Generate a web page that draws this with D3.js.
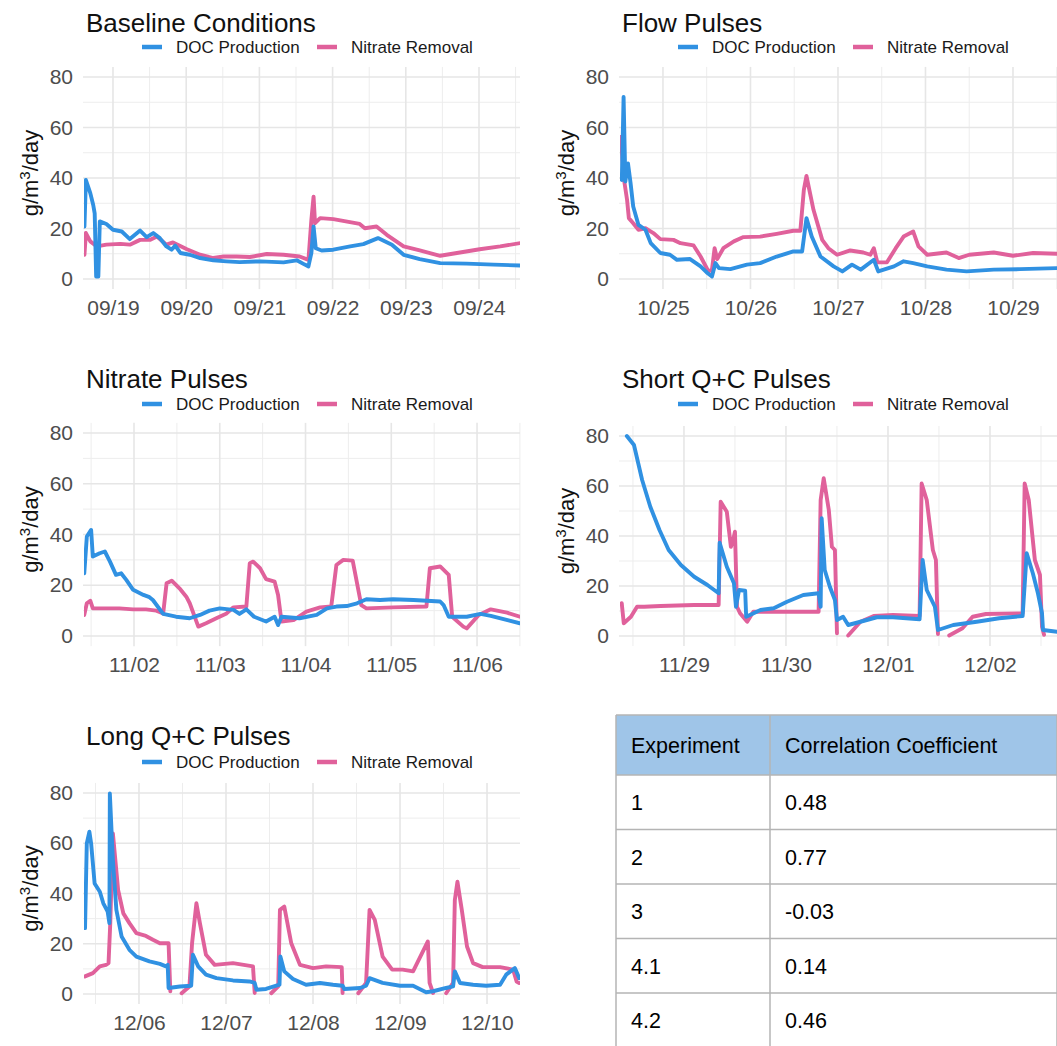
<!DOCTYPE html>
<html lang="en">
<head>
<meta charset="UTF-8" />
<title>DOC Production and Nitrate Removal</title>
<script src="https://cdn.jsdelivr.net/npm/d3@7"></script>
<style>
  body { margin: 0; background: #fff; }
  svg { display: block; }
</style>
</head>
<body>
<svg id="chart" width="1057" height="1046"></svg>
<script>
// series values: [fractional day of month, g/m3/day], null = gap
const baseDoc = [[18.61,20.8],[18.63,39.2],[18.69,34],[18.73,29.3],[18.75,26],[18.77,1],[18.80,1],[18.82,22.8],[18.91,21.8],[19.0,19.5],[19.12,18.8],[19.23,15.8],[19.37,19.2],[19.46,16.6],[19.55,18.2],[19.64,16.2],[19.73,12.9],[19.80,11.6],[19.85,13.2],[19.92,10.3],[20.05,9.6],[20.19,8.3],[20.37,7.4],[20.55,7],[20.73,6.7],[21.01,7],[21.33,6.6],[21.51,7.4],[21.62,5.7],[21.67,5],[21.71,10.3],[21.74,20.8],[21.77,12.2],[21.85,11.3],[22.01,11.6],[22.24,12.9],[22.42,13.8],[22.62,16.2],[22.81,13.6],[22.97,9.6],[23.19,7.9],[23.47,6.3],[23.83,6.1],[24.20,5.7],[24.60,5.3]];
const baseNit = [[18.61,9.6],[18.63,18.2],[18.69,14.9],[18.78,12.9],[18.91,13.6],[19.10,13.9],[19.23,13.6],[19.37,15.5],[19.51,15.5],[19.60,16.8],[19.73,13.6],[19.82,14.5],[20.01,11.8],[20.19,9.6],[20.37,8.3],[20.51,8.9],[20.69,8.9],[20.87,8.7],[21.10,9.9],[21.33,9.6],[21.55,8.9],[21.67,7.6],[21.71,23.4],[21.74,32.6],[21.76,22.1],[21.83,24.1],[22.01,23.7],[22.37,21.8],[22.44,20.1],[22.60,20.8],[22.74,17.5],[22.97,12.9],[23.19,11.3],[23.47,9.2],[23.74,10.5],[24.01,11.8],[24.29,12.9],[24.60,14.4]];

const flowDoc = [[24.53,39.2],[24.55,72.1],[24.57,38.6],[24.60,45.8],[24.63,37.9],[24.66,28.7],[24.72,21.4],[24.80,19.5],[24.86,14.2],[24.97,10.3],[25.08,9.6],[25.16,7.6],[25.31,7.9],[25.43,5],[25.50,2.6],[25.56,1],[25.60,6.3],[25.64,4.3],[25.77,3.9],[25.96,5.7],[26.11,6.3],[26.30,8.9],[26.49,10.9],[26.59,10.9],[26.64,24.1],[26.70,16.8],[26.80,8.9],[26.95,5],[27.05,3],[27.16,5.7],[27.26,3.7],[27.41,7.6],[27.46,3],[27.64,5],[27.75,7],[27.86,6.3],[28.02,5],[28.24,3.7],[28.47,3],[28.78,3.7],[29.08,3.9],[29.50,4.3]];
const flowNit = [[24.52,56.3],[24.55,40.5],[24.59,31.3],[24.61,24.1],[24.66,22.1],[24.72,19.5],[24.80,20.1],[24.89,18.2],[24.97,15.8],[25.12,15.5],[25.20,14.2],[25.35,13.3],[25.43,8.9],[25.52,3],[25.56,3.7],[25.59,12.2],[25.62,7.9],[25.69,12.2],[25.81,14.9],[25.92,16.6],[26.11,16.8],[26.30,17.9],[26.49,19.1],[26.57,19.1],[26.61,35.3],[26.64,40.8],[26.72,27.4],[26.82,15.5],[26.89,12.2],[26.99,9.6],[27.14,11.3],[27.29,10.5],[27.37,9.6],[27.41,12.2],[27.45,6.6],[27.56,6.6],[27.66,12.2],[27.75,16.8],[27.86,18.8],[27.92,12.9],[28.02,9.6],[28.24,10.5],[28.38,8.3],[28.50,9.6],[28.78,10.5],[29.00,9.2],[29.23,10.3],[29.50,10]];

const nitDoc = [[1.42,24.7],[1.45,39.2],[1.50,41.8],[1.52,31.3],[1.60,32.6],[1.66,33.3],[1.72,29.3],[1.79,24.1],[1.85,24.7],[1.91,22.1],[1.99,18.2],[2.11,16.2],[2.18,15.3],[2.22,14.2],[2.34,8.7],[2.49,7.6],[2.65,7],[2.77,8.3],[2.88,10],[3.00,10.9],[3.16,10.3],[3.23,8.7],[3.31,10.5],[3.40,7.6],[3.54,5.7],[3.64,7.6],[3.68,4.3],[3.72,7.6],[3.93,7],[4.13,8.3],[4.25,10.9],[4.36,11.6],[4.48,11.8],[4.60,12.9],[4.71,14.5],[4.87,14.2],[5.02,14.5],[5.26,14.2],[5.57,13.6],[5.61,12.2],[5.67,7.6],[5.88,7.6],[6.04,8.7],[6.16,7.9],[6.50,5]];
const nitNit = [[1.42,8.3],[1.45,12.9],[1.49,13.9],[1.52,10.9],[1.68,10.9],[1.83,10.9],[1.99,10.5],[2.14,10.5],[2.26,10],[2.34,8.9],[2.38,20.8],[2.44,21.8],[2.53,18.8],[2.61,15.5],[2.65,12.9],[2.75,3.7],[2.84,5],[2.96,7],[3.08,8.9],[3.16,11.3],[3.31,11.6],[3.35,28.7],[3.39,29.3],[3.47,26.7],[3.54,22.4],[3.64,21.4],[3.68,16.2],[3.72,5.7],[3.86,6.3],[4.01,9.6],[4.17,11.3],[4.30,11.6],[4.36,28],[4.44,30],[4.55,29.7],[4.65,12.2],[4.71,10.9],[5.02,11.3],[5.41,11.6],[5.45,26.7],[5.57,27.4],[5.67,24.1],[5.71,7.6],[5.84,3.7],[5.88,3],[6.02,8.3],[6.16,10.5],[6.35,9.2],[6.50,7.6]];

const shortDoc = [[28.44,80],[28.51,76.4],[28.59,62.4],[28.67,51.7],[28.76,42.4],[28.85,34.4],[28.97,28.4],[29.10,23.7],[29.23,20.4],[29.34,17.1],[29.35,37.3],[29.42,27.7],[29.49,21.1],[29.51,11.7],[29.54,18.4],[29.60,18.1],[29.61,7.7],[29.75,10.4],[29.88,11.1],[30.01,13.7],[30.17,16.4],[30.32,17.1],[30.34,11.7],[30.35,47.1],[30.38,26.4],[30.43,19.7],[30.48,14.4],[30.50,6.4],[30.56,7.7],[30.61,4.4],[30.73,5.7],[30.89,7.5],[31.05,7.5],[31.31,6.7],[31.34,30.4],[31.38,18.4],[31.46,11.7],[31.49,2.4],[31.64,4.4],[31.87,5.7],[32.09,7.1],[32.32,8],[32.36,33.1],[32.42,25.1],[32.47,17.1],[32.51,9.1],[32.52,2.4],[32.66,1.7]];
const shortNit = [[28.39,13.1],[28.41,5.1],[28.48,7.7],[28.54,11.7],[28.61,11.7],[28.77,12],[29.10,12.4],[29.34,12.4],[29.36,53.7],[29.42,49.7],[29.46,35.7],[29.48,38],[29.50,41.7],[29.52,11.7],[29.55,9.1],[29.62,5.7],[29.68,9.7],[29.81,9.7],[30.07,9.7],[30.32,9.7],[30.34,54.4],[30.37,63.1],[30.42,50.4],[30.45,35.7],[30.48,34.4],[30.50,1.1],[30.52,null],[30.61,0.2],[30.73,5.7],[30.86,8],[31.05,8.4],[31.31,8],[31.33,61],[31.38,54.4],[31.44,34.4],[31.47,30.4],[31.49,0.8],[31.52,null],[31.60,0.2],[31.73,3.1],[31.83,7.7],[31.96,8.8],[32.32,9.1],[32.34,61],[32.38,54.4],[32.44,30.4],[32.49,24.4],[32.51,3.7],[32.53,0.5]];

const longDoc = [[5.38,26.2],[5.40,59.9],[5.43,64.6],[5.45,59.9],[5.49,44],[5.55,40.7],[5.59,36.1],[5.64,32.8],[5.66,28.2],[5.665,79.8],[5.70,53.3],[5.74,33.5],[5.80,22.9],[5.89,17.6],[5.97,14.9],[6.12,13],[6.24,12],[6.31,11],[6.33,11.6],[6.34,2.4],[6.47,3],[6.60,3.3],[6.62,15.6],[6.68,11],[6.77,7.7],[6.89,6.3],[7.08,5.4],[7.27,5],[7.33,4.4],[7.35,1.7],[7.46,2],[7.615,3.7],[7.625,14.9],[7.67,9],[7.77,6],[7.92,3.7],[8.08,4.4],[8.23,3.7],[8.34,3.3],[8.36,2],[8.54,2.4],[8.61,3.3],[8.65,6.3],[8.80,4.4],[9.00,3.3],[9.15,3.3],[9.30,0.7],[9.38,1.1],[9.53,2.4],[9.61,3],[9.63,9],[9.69,4.4],[9.84,3.7],[9.99,3.3],[10.15,3.7],[10.22,7.7],[10.32,10.3],[10.37,6.3]];
const longNit = [[5.38,7],[5.47,8.3],[5.55,11],[5.62,11.6],[5.65,12.3],[5.67,28.2],[5.70,63.9],[5.76,41.4],[5.82,32.1],[5.89,28.2],[5.97,24.2],[6.08,23.1],[6.16,21.6],[6.24,20.2],[6.34,20.2],[6.36,1.1],[6.38,null],[6.49,0.3],[6.58,3],[6.61,20.2],[6.66,36.1],[6.70,28.2],[6.77,15.6],[6.87,11.6],[7.08,12.3],[7.31,11],[7.33,0.4],[7.35,null],[7.52,0.3],[7.60,3],[7.62,33.5],[7.67,34.8],[7.75,20.2],[7.85,11.6],[8.00,10.3],[8.15,11],[8.33,10.7],[8.34,0.4],[8.36,null],[8.52,0.3],[8.61,4.4],[8.65,33.5],[8.71,29.5],[8.80,14.9],[8.91,9.7],[9.03,9.7],[9.15,9],[9.32,20.9],[9.34,4.4],[9.38,0.4],[9.40,null],[9.53,0.3],[9.61,4.4],[9.63,37.4],[9.66,44.7],[9.71,33.5],[9.77,18.9],[9.84,12.3],[9.95,10.7],[10.15,10.7],[10.30,9.7],[10.34,5],[10.37,4.4]];

const seriesNames = ["DOC Production", "Nitrate Removal"];
const yTicks = [0, 20, 40, 60, 80];
const experiments = ["1", "2", "3", "4.1", "4.2"];
const coefficients = ["0.48", "0.77", "-0.03", "0.14", "0.46"];
const tableHeader = ["Experiment", "Correlation Coefficient"];

const FONT = "'Liberation Sans', Arial, Helvetica, sans-serif";
const BLUE = "#3091e2", PINK = "#e0619b";

// panel layout (month is 0-based, from/to = visible day range)
const panels = [
  { title: "Baseline Conditions", month: 8, from: 18.604, to: 24.56, doc: baseDoc, nit: baseNit, left: 84, right: 520, top: 77, bottom: 279, titleY: 31.5, legendY: 47 },
  { title: "Flow Pulses", month: 9, from: 24.509, to: 29.503, doc: flowDoc, nit: flowNit, left: 620, right: 1057, top: 77, bottom: 279, titleY: 31.5, legendY: 47 },
  { title: "Nitrate Pulses", month: 10, from: 1.417, to: 6.501, doc: nitDoc, nit: nitNit, left: 84, right: 520, top: 433, bottom: 636, titleY: 388, legendY: 404 },
  { title: "Short Q+C Pulses", month: 10, from: 28.373, to: 32.657, doc: shortDoc, nit: shortNit, left: 620, right: 1057, top: 436, bottom: 636, titleY: 388, legendY: 404 },
  { title: "Long Q+C Pulses", month: 11, from: 5.368, to: 10.379, doc: longDoc, nit: longNit, left: 84, right: 520, top: 793, bottom: 994, titleY: 745, legendY: 762 }
];

const toDate = (month, day) => new Date(Date.UTC(2019, month, 1) + (day - 1) * 864e5);

const svg = d3.select("#chart").attr("font-family", FONT);
svg.append("rect").attr("width", 1057).attr("height", 1046).attr("fill", "#fff");

panels.forEach((p, i) => {
  const x = d3.scaleUtc()
    .domain([toDate(p.month, p.from), toDate(p.month, p.to)])
    .range([p.left, p.right]);
  const y = d3.scaleLinear().domain([0, 80]).range([p.bottom, p.top]);
  const yHi = y(84), yLo = y(-4);
  const g = svg.append("g");

  // grid: minor then major
  const halfDays = x.ticks(d3.utcHour.every(12)).filter((d) => d.getUTCHours() === 12);
  const days = x.ticks(d3.utcDay.every(1));
  g.selectAll(".vminor").data(halfDays).enter().append("line")
    .attr("x1", (d) => x(d)).attr("x2", (d) => x(d))
    .attr("y1", yHi).attr("y2", yLo)
    .attr("stroke", "#ededed").attr("stroke-width", 1);
  g.selectAll(".hminor").data([10, 30, 50, 70]).enter().append("line")
    .attr("x1", p.left - 1).attr("x2", p.right)
    .attr("y1", (d) => y(d)).attr("y2", (d) => y(d))
    .attr("stroke", "#ededed").attr("stroke-width", 1);
  g.selectAll(".vmajor").data(days).enter().append("line")
    .attr("x1", (d) => x(d)).attr("x2", (d) => x(d))
    .attr("y1", yHi).attr("y2", yLo)
    .attr("stroke", "#e6e6e6").attr("stroke-width", 1.6);
  g.selectAll(".hmajor").data(yTicks).enter().append("line")
    .attr("x1", p.left - 1).attr("x2", p.right)
    .attr("y1", (d) => y(d)).attr("y2", (d) => y(d))
    .attr("stroke", "#e6e6e6").attr("stroke-width", 1.6);

  // axes
  const xAxis = g.append("g")
    .attr("transform", `translate(0,${p.bottom + 21.5})`)
    .call(d3.axisBottom(x).ticks(d3.utcDay.every(1)).tickFormat(d3.utcFormat("%m/%d")).tickSize(0).tickPadding(0));
  xAxis.select(".domain").remove();
  xAxis.attr("font-family", FONT).attr("font-size", 21);
  xAxis.selectAll("text").attr("fill", "#4d4d4d");

  const yAxis = g.append("g")
    .attr("transform", `translate(${p.left},0)`)
    .call(d3.axisLeft(y).tickValues(yTicks).tickSize(0).tickPadding(11));
  yAxis.select(".domain").remove();
  yAxis.attr("font-family", FONT).attr("font-size", 21);
  yAxis.selectAll("text").attr("fill", "#4d4d4d");

  // axis title
  const yt = g.append("text")
    .attr("transform", `translate(${p.left - 46},${y(40) - 5}) rotate(-90)`)
    .attr("text-anchor", "middle")
    .attr("font-size", 22)
    .attr("fill", "#111");
  yt.append("tspan").text("g/m");
  yt.append("tspan").attr("font-size", 15).attr("baseline-shift", "55%").text("3");
  yt.append("tspan").text("/day");

  // title
  g.append("text")
    .attr("x", p.left + 2).attr("y", p.titleY)
    .attr("font-size", 26).attr("fill", "#111")
    .text(p.title);

  // legend
  const legend = g.append("g").attr("transform", `translate(${p.left},${p.legendY})`);
  [BLUE, PINK].forEach((c, k) => {
    const off = k * 175;
    legend.append("line")
      .attr("x1", 58 + off).attr("x2", 78 + off)
      .attr("y1", 0).attr("y2", 0)
      .attr("stroke", c).attr("stroke-width", 4.5);
    legend.append("text")
      .attr("x", 92 + off).attr("y", 6)
      .attr("font-size", 17).attr("fill", "#1a1a1a")
      .text(seriesNames[k]);
  });

  // lines
  const clipId = "clip" + i;
  svg.append("clipPath").attr("id", clipId)
    .append("rect")
    .attr("x", p.left).attr("y", yHi)
    .attr("width", p.right - p.left).attr("height", yLo - yHi);

  const line = d3.line()
    .defined((d) => d[1] != null)
    .x((d) => x(toDate(p.month, d[0])))
    .y((d) => y(d[1]));

  const lg = g.append("g").attr("clip-path", `url(#${clipId})`);
  [[p.nit, PINK], [p.doc, BLUE]].forEach(([data, c]) => {
    lg.append("path")
      .datum(data)
      .attr("d", line)
      .attr("fill", "none")
      .attr("stroke", c)
      .attr("stroke-width", 3.9)
      .attr("stroke-linejoin", "round")
      .attr("stroke-linecap", "round");
  });
});

// correlation table
const colX = [616, 770, 1057];
const headerTop = 715, headerBottom = 775, rowH = 54.5;
const rows = experiments.map((e, i) => [e, coefficients[i]]);
const tbl = svg.append("g").attr("font-size", 21.5).attr("fill", "#000");

tbl.append("rect")
  .attr("x", colX[0]).attr("y", headerTop)
  .attr("width", colX[2] - colX[0]).attr("height", headerBottom - headerTop)
  .attr("fill", "#9fc5e8");

tableHeader.forEach((h, j) => {
  tbl.append("text")
    .attr("x", colX[j] + 15).attr("y", (headerTop + headerBottom) / 2 + 8)
    .text(h);
});

tbl.selectAll(".row").data(rows).enter().append("g")
  .each(function (r, i) {
    const top = headerBottom + i * rowH;
    r.forEach((v, j) => {
      d3.select(this).append("text")
        .attr("x", colX[j] + 15).attr("y", top + rowH / 2 + 8)
        .text(v);
    });
  });

// table borders
const hLines = [headerTop, headerBottom].concat(rows.map((r, i) => headerBottom + (i + 1) * rowH));
tbl.selectAll(".hl").data(hLines).enter().append("line")
  .attr("x1", colX[0]).attr("x2", colX[2])
  .attr("y1", (d) => d).attr("y2", (d) => d)
  .attr("stroke", "#b4b4b4").attr("stroke-width", 1.5);
tbl.selectAll(".vl").data(colX).enter().append("line")
  .attr("x1", (d) => d).attr("x2", (d) => d)
  .attr("y1", headerTop).attr("y2", 1046)
  .attr("stroke", "#b4b4b4").attr("stroke-width", 1.5);
</script>
</body>
</html>
